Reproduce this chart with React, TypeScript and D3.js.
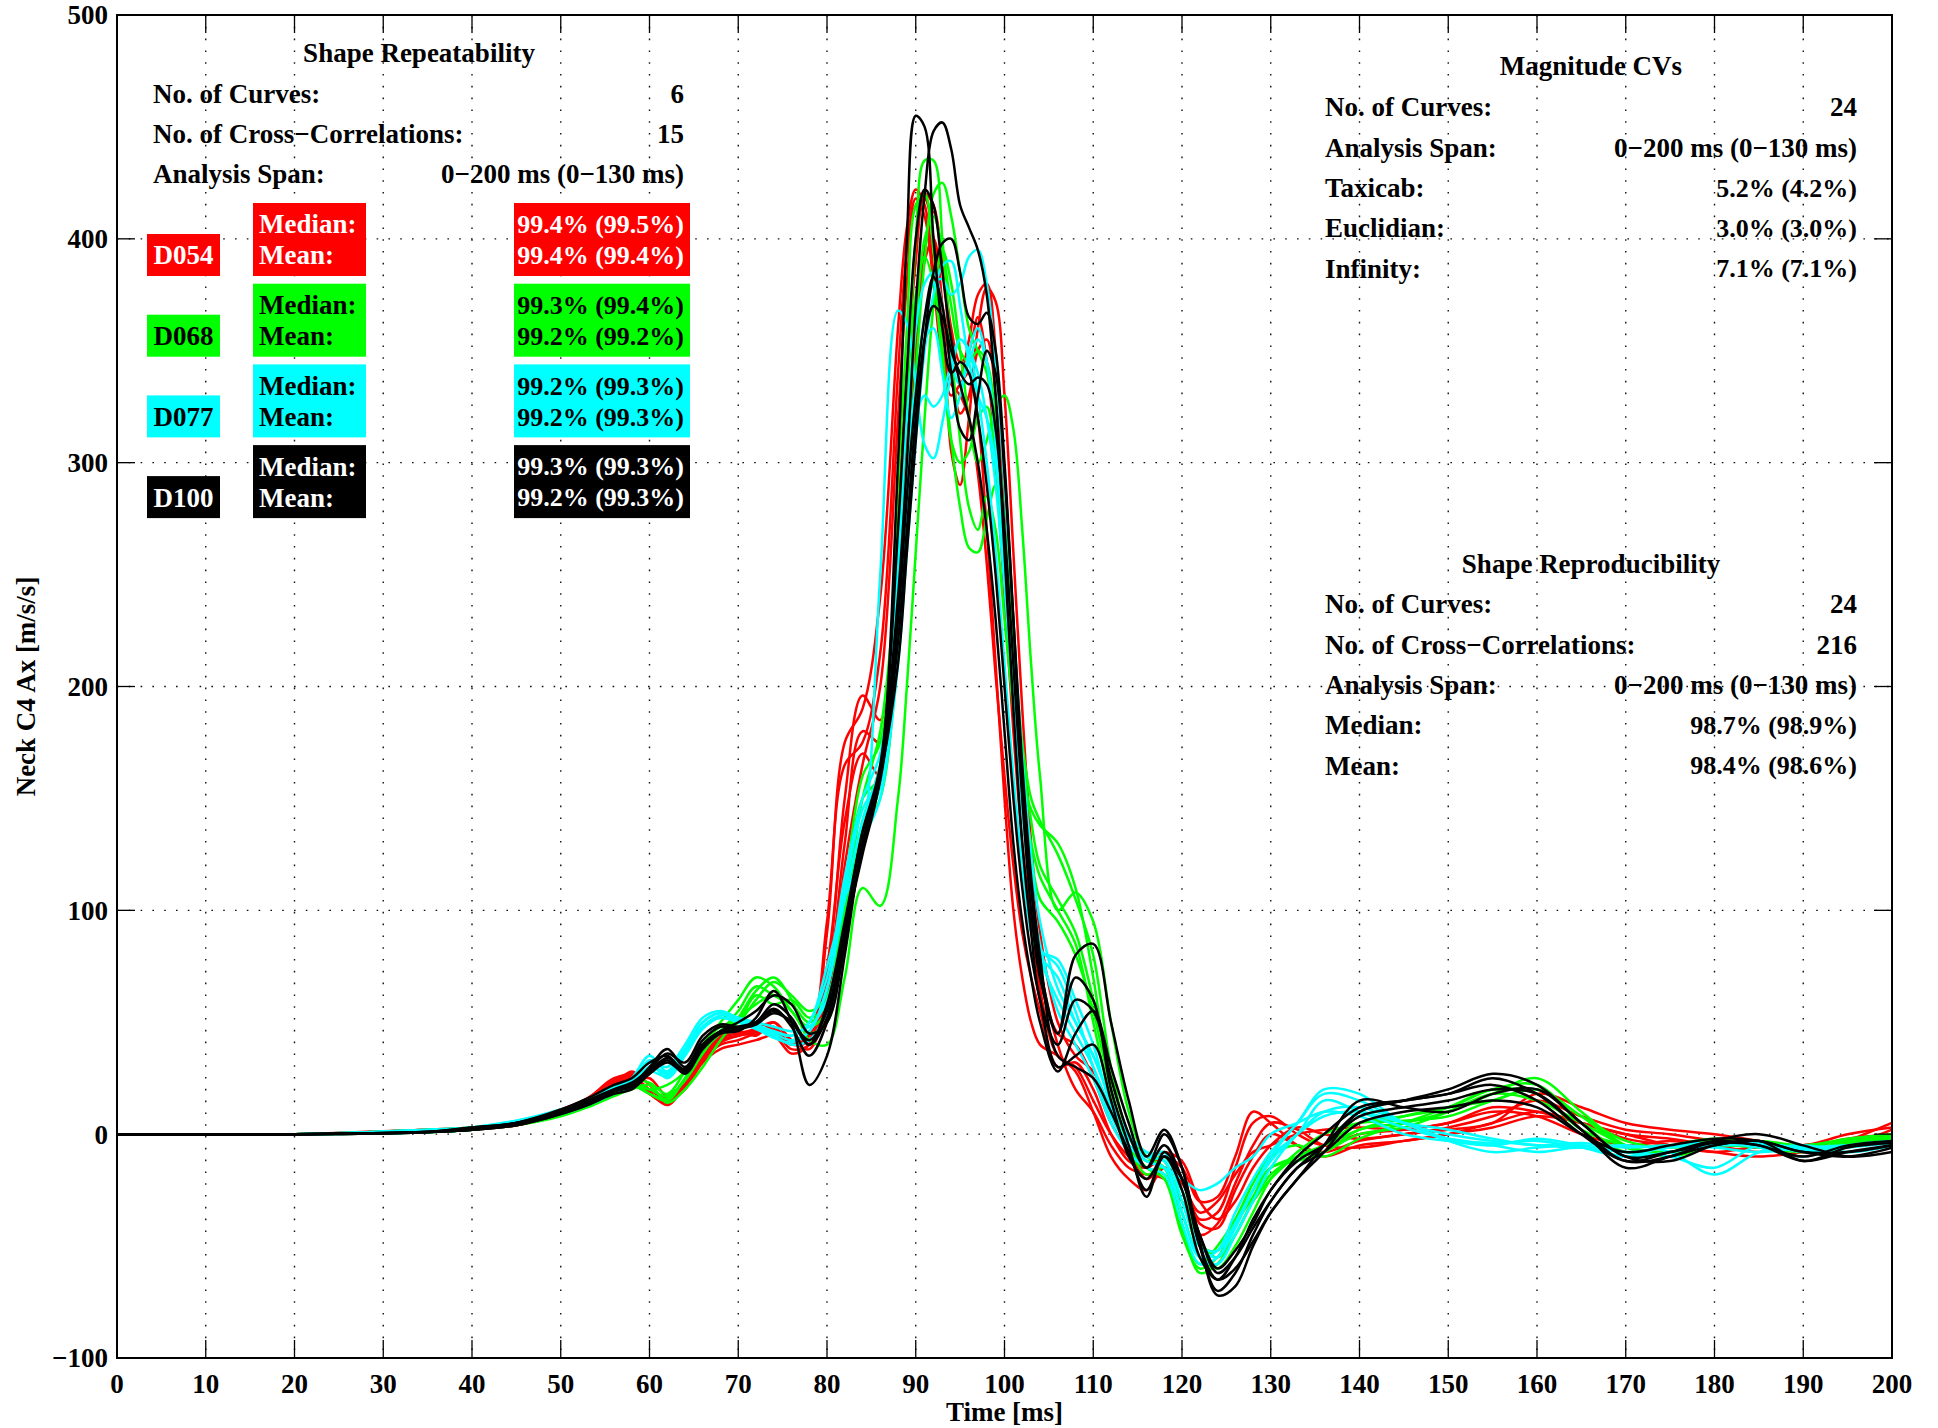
import React from 'react';
import * as d3 from 'd3';

// ---------- data ----------
const T = [0,20,35,40,45,50,53,56,58,60,62,64,66,68,70,72,74,76,78,80,82,84,86,88,89,90,91,92,93,94,95,96,97,98,99,100,101,102,103,104,106,108,110,112,114,116,118,120,122,124,126,128,130,133,136,140,145,150,155,160,165,170,175,180,185,190,195,200];

const D054_1 = [0,0,2,3,5,10,16,24,27,18,14,22,35,42,44,46,48,40,42,90,175,190,240,360,405,422,415,385,350,335,330,320,295,255,205,160,120,90,70,55,30,32,20,0,-12,-15,-10,-20,-38,-35,-15,5,8,0,-5,0,2,5,12,10,5,0,-2,-5,-8,-5,-3,0];
const D054_2 = [0,0,1,3,4,9,14,22,28,22,15,20,33,40,42,45,46,38,40,70,150,196,185,280,340,390,420,415,390,360,345,350,365,345,300,240,180,130,95,70,45,40,25,5,-8,-20,-15,-20,-40,-42,-25,-10,0,-5,-8,-3,0,3,8,15,8,2,0,-3,-5,-8,-5,2];
const D054_3 = [0,0,2,2,5,11,16,25,26,20,16,24,36,44,46,44,50,42,38,60,120,165,200,320,380,415,418,400,370,345,340,355,375,380,350,290,220,160,110,75,40,20,10,-5,-15,-18,-20,-30,-45,-40,-22,-5,5,2,-5,-6,-3,0,5,10,5,0,-5,-8,-10,-8,-5,-2];
const D054_4 = [0,0,1,2,4,9,13,20,24,25,17,21,32,38,40,42,44,36,40,65,130,180,175,250,310,360,395,412,390,345,322,330,360,378,372,330,260,190,130,90,50,35,28,10,-5,-10,-8,-12,-30,-38,-30,-15,-5,3,0,-2,0,2,5,18,12,5,2,0,-3,-5,0,3];
const D054_5 = [0,0,1,3,5,10,14,23,26,19,13,22,34,41,44,45,47,40,44,75,140,170,160,230,290,350,390,400,370,305,290,320,350,355,330,280,210,150,100,65,35,30,15,0,-10,-15,-10,-15,-30,-28,-10,10,5,-5,-10,-5,-3,0,3,8,5,-2,-5,-8,-6,-10,-3,5];
const D054_6 = [0,0,2,3,5,10,15,22,25,18,15,23,35,43,45,47,50,42,45,95,165,175,215,340,395,418,410,380,345,330,335,340,320,270,210,150,100,70,50,40,35,28,10,-10,-20,-25,-15,-22,-35,-30,-18,-8,-5,0,2,3,2,5,10,8,0,-5,-3,-5,-4,-6,-2,0];

const D068_1 = [0,0,1,2,5,9,14,20,22,20,22,28,40,48,50,60,68,62,55,62,100,150,180,260,330,400,435,435,400,350,310,280,270,285,270,230,190,160,145,138,130,110,70,20,-5,-15,-20,-45,-60,-55,-40,-25,-15,-10,-5,5,8,12,20,22,5,-8,-5,-2,-5,-5,-3,-2];
const D068_2 = [0,0,1,2,5,10,14,19,22,18,16,25,38,46,55,66,62,58,50,60,110,160,175,290,360,415,420,395,350,310,280,262,260,275,290,270,220,175,150,140,125,105,80,30,0,-10,-15,-40,-62,-58,-45,-30,-20,-10,-8,2,5,10,18,25,10,-5,-8,-5,-6,-8,-5,-3];
const D068_3 = [0,0,1,2,4,8,12,17,20,22,14,20,30,42,52,64,70,60,42,40,70,110,102,150,200,260,320,370,395,380,350,320,300,310,325,330,315,270,210,160,100,108,95,50,10,-10,-12,-35,-55,-60,-50,-35,-20,-8,0,5,6,8,15,20,8,-6,-8,-5,-5,-6,-5,-2];
const D068_4 = [0,0,2,3,5,10,14,20,24,23,18,28,40,50,60,70,66,55,48,55,95,140,165,240,300,360,400,410,395,370,350,345,350,345,320,270,210,160,125,105,95,80,55,20,-5,-18,-15,-30,-50,-52,-40,-28,-15,-12,-8,0,3,10,18,15,5,-5,-10,-5,-3,-5,-2,0];
const D068_5 = [0,0,1,2,5,9,13,20,22,18,15,25,37,45,50,62,58,60,52,58,105,150,160,270,330,375,392,380,345,310,300,305,320,325,300,250,195,155,130,115,100,85,50,15,-8,-15,-18,-42,-58,-50,-38,-22,-10,-5,-10,-2,5,12,20,18,2,-5,-5,-3,-5,-6,-4,-1];
const D068_6 = [0,0,1,3,5,10,15,21,23,20,17,24,36,46,52,58,62,55,45,50,90,135,150,220,280,340,390,420,425,410,385,360,350,340,315,270,215,170,140,120,105,90,60,25,0,-12,-10,-25,-48,-55,-45,-30,-18,-10,-5,2,8,12,15,20,8,-3,-6,-4,-4,-5,-3,-1];

const D077_1 = [0,0,1,3,6,10,14,20,25,35,28,38,50,54,50,48,46,44,50,75,105,130,250,368,362,335,308,302,318,340,355,350,330,300,260,210,160,120,90,78,60,45,30,10,-5,-12,-15,-20,-25,-22,-15,-10,0,5,10,8,0,-3,-5,-2,-5,-8,-10,-15,-5,-8,-6,-4];
const D077_2 = [0,0,2,3,6,11,15,21,24,33,30,40,52,55,52,50,48,46,48,60,95,135,155,220,280,330,365,380,382,375,380,392,395,380,345,290,230,170,125,95,65,50,35,15,-2,-10,-12,-35,-55,-52,-35,-20,-8,5,20,18,5,0,-3,-5,-6,-5,-8,-18,-8,-5,-8,-5];
const D077_3 = [0,0,1,2,5,9,13,19,22,30,27,36,48,53,52,48,45,42,46,65,110,145,160,260,320,360,380,385,370,345,335,345,355,345,310,260,205,155,115,83,75,55,30,8,-5,-10,-8,-30,-50,-55,-40,-25,-10,0,15,10,3,-2,-4,-3,-6,-10,-5,-4,-6,-10,-5,-3];
const D077_4 = [0,0,1,3,5,10,14,20,23,32,25,35,47,52,50,47,44,40,42,55,90,130,150,210,260,310,350,375,388,390,370,345,330,320,300,260,210,160,110,82,78,60,40,12,-5,-12,-15,-35,-55,-58,-45,-30,-15,0,10,12,5,-3,-8,-6,-5,-8,-6,-5,-5,-7,-8,-5];
const D077_5 = [0,0,2,3,5,10,14,19,22,30,28,38,50,54,51,49,46,44,50,70,115,150,170,250,300,335,355,360,340,320,330,350,360,345,310,255,200,150,110,85,55,40,25,5,-8,-15,-18,-40,-58,-55,-42,-25,-12,0,8,10,5,2,-2,-5,-4,-6,-5,-6,-8,-6,-5,-4];
const D077_6 = [0,0,1,2,5,9,13,18,21,28,26,37,48,52,50,47,43,41,46,65,105,140,165,245,290,320,330,325,330,345,355,350,340,320,290,245,195,145,105,80,70,50,35,15,0,-8,-10,-25,-50,-52,-40,-25,-10,5,18,15,5,-2,-5,-8,-6,-10,-8,-5,-4,-6,-5,-3];

const D100_1 = [0,0,1,2,5,10,15,20,22,30,38,30,42,48,47,50,55,50,42,55,90,125,160,300,400,455,450,400,360,340,345,340,320,290,250,200,150,110,80,60,30,35,40,15,-10,-20,-10,-25,-55,-65,-55,-38,-25,-10,0,12,15,18,22,15,0,-12,-8,-3,-5,-10,-5,-3];
const D100_2 = [0,0,1,2,5,11,16,22,25,32,35,28,40,46,50,55,62,58,45,50,85,130,162,240,300,370,420,448,452,440,415,405,395,375,330,260,190,130,90,60,40,60,55,25,0,-15,0,-15,-50,-70,-62,-45,-30,-15,-5,10,15,20,27,22,5,-10,-12,-5,-3,-8,-8,-5];
const D100_3 = [0,0,1,3,5,10,14,20,23,29,36,32,44,49,48,50,58,52,40,58,95,135,165,270,340,400,422,415,385,355,335,320,300,270,230,180,130,95,70,50,28,45,55,30,5,-15,-5,-20,-45,-60,-52,-40,-25,-12,-5,8,12,15,20,18,2,-15,-10,-5,-3,-12,-6,-4];
const D100_4 = [0,0,1,2,4,9,13,18,20,27,33,27,38,45,46,52,64,50,22,35,80,130,160,210,260,310,355,385,398,400,385,365,362,367,350,300,230,160,110,75,45,80,85,50,15,-10,2,-15,-48,-72,-68,-50,-35,-20,-5,15,12,10,18,20,5,-10,-8,-4,-5,-12,-8,-5];
const D100_5 = [0,0,1,3,5,10,14,19,22,28,34,29,40,46,48,50,56,48,35,50,90,135,160,230,285,330,365,383,370,340,315,310,330,350,340,295,230,165,115,80,35,30,25,10,-8,-25,-10,-20,-45,-62,-55,-42,-30,-15,-8,5,10,12,15,12,0,-8,-5,-2,-3,-8,-10,-6];
const D100_6 = [0,0,1,2,4,9,13,19,21,27,32,28,39,45,47,49,54,50,40,52,88,128,158,220,270,320,355,370,365,350,340,335,338,335,315,270,210,150,100,70,45,70,60,20,-5,-28,-8,-20,-50,-65,-60,-48,-35,-20,-8,10,15,18,25,18,2,-12,-10,-3,0,-5,-10,-8];

const SUBJECTS = ['D054', 'D068', 'D077', 'D100'];
const SUBJECT_COLORS = ['#ff0000', '#00ff00', '#00ffff', '#000000'];
const SUBJECT_TEXT = ['#ffffff', '#000000', '#000000', '#ffffff'];
const SUBJECT_CURVES = [
  [D054_1, D054_2, D054_3, D054_4, D054_5, D054_6],
  [D068_1, D068_2, D068_3, D068_4, D068_5, D068_6],
  [D077_1, D077_2, D077_3, D077_4, D077_5, D077_6],
  [D100_1, D100_2, D100_3, D100_4, D100_5, D100_6],
];
const SUBJECT_MEDIAN = ['99.4% (99.5%)', '99.3% (99.4%)', '99.2% (99.3%)', '99.3% (99.3%)'];
const SUBJECT_MEAN = ['99.4% (99.4%)', '99.2% (99.2%)', '99.2% (99.3%)', '99.2% (99.3%)'];

const REPEAT_ROWS = [
  ['No. of Curves:', '6'],
  ['No. of Cross\u2212Correlations:', '15'],
  ['Analysis Span:', '0\u2212200 ms (0\u2212130 ms)'],
];
const MAG_ROWS = [
  ['No. of Curves:', '24'],
  ['Analysis Span:', '0\u2212200 ms (0\u2212130 ms)'],
  ['Taxicab:', '5.2% (4.2%)'],
  ['Euclidian:', '3.0% (3.0%)'],
  ['Infinity:', '7.1% (7.1%)'],
];
const REPRO_ROWS = [
  ['No. of Curves:', '24'],
  ['No. of Cross\u2212Correlations:', '216'],
  ['Analysis Span:', '0\u2212200 ms (0\u2212130 ms)'],
  ['Median:', '98.7% (98.9%)'],
  ['Mean:', '98.4% (98.6%)'],
];

const X_TICKS = d3.range(0, 201, 10);
const Y_TICKS = [-100, 0, 100, 200, 300, 400, 500];

// ---------- layout ----------
const W = 1938;
const H = 1428;
const L = 117, R = 1892, TOP = 15, BOT = 1358;
const FS = 27;
const TICK = 18;

const x = d3.scaleLinear().domain([0, 200]).range([L, R]);
const y = d3.scaleLinear().domain([-100, 500]).range([BOT, TOP]);

const lineGen = d3.line<number>()
  .x((_d, i) => x(T[i]))
  .y((d) => y(d))
  .curve(d3.curveCatmullRom.alpha(0.5));

const fmt = (v: number) => (v < 0 ? '\u2212' + Math.abs(v) : String(v));
const valSize = (s: string) => (s.indexOf('%') >= 0 ? 26 : FS);

export default function App() {
  const grpTop0 = 203;
  const grpStep = 80.7;
  return (
    <svg
      width={W}
      height={H}
      viewBox={`0 0 ${W} ${H}`}
      style={{ position: 'absolute', left: 0, top: 0, background: '#fff' }}
      fontFamily="'Liberation Serif', 'Times New Roman', serif"
      fontWeight="bold"
      fontSize={FS}
    >
      <defs>
        <clipPath id="plotclip">
          <rect x={L} y={TOP} width={R - L} height={BOT - TOP} />
        </clipPath>
      </defs>
      <rect x={0} y={0} width={W} height={H} fill="#fff" />

      {/* grid */}
      <g stroke="#111" strokeWidth={1.4} strokeDasharray="1.6 10.2">
        {X_TICKS.filter((t) => t > 0 && t < 200).map((t) => (
          <line key={'gx' + t} x1={x(t)} x2={x(t)} y1={TOP} y2={BOT} />
        ))}
        {Y_TICKS.filter((v) => v > -100 && v < 500).map((v) => (
          <line key={'gy' + v} x1={L} x2={R} y1={y(v)} y2={y(v)} />
        ))}
      </g>

      {/* curves */}
      <g clipPath="url(#plotclip)" fill="none" strokeWidth={2.5} strokeLinejoin="round">
        {SUBJECT_CURVES.map((curves, si) =>
          curves.map((c, ci) => (
            <path key={si + '-' + ci} d={lineGen(c) || ''} stroke={SUBJECT_COLORS[si]} />
          ))
        )}
      </g>

      {/* ticks */}
      <g stroke="#000" strokeWidth={1.3}>
        {X_TICKS.map((t) => (
          <g key={'tx' + t}>
            <line x1={x(t)} x2={x(t)} y1={BOT} y2={BOT - TICK} />
            <line x1={x(t)} x2={x(t)} y1={TOP} y2={TOP + TICK} />
          </g>
        ))}
        {Y_TICKS.map((v) => (
          <g key={'ty' + v}>
            <line x1={L} x2={L + TICK} y1={y(v)} y2={y(v)} />
            <line x1={R} x2={R - TICK} y1={y(v)} y2={y(v)} />
          </g>
        ))}
      </g>
      <rect x={L} y={TOP} width={R - L} height={BOT - TOP} fill="none" stroke="#000" strokeWidth={2} />

      {/* tick labels */}
      {X_TICKS.map((t) => (
        <text key={'lx' + t} x={x(t)} y={1384} dy="0.35em" textAnchor="middle">{fmt(t)}</text>
      ))}
      {Y_TICKS.map((v) => (
        <text key={'ly' + v} x={L - 9} y={y(v)} dy="0.35em" textAnchor="end">{fmt(v)}</text>
      ))}

      {/* axis labels */}
      <text x={(L + R) / 2} y={1412} dy="0.35em" textAnchor="middle">Time [ms]</text>
      <text transform={`translate(26,${(TOP + BOT) / 2}) rotate(-90)`} dy="0.35em" textAnchor="middle">Neck C4 Ax [m/s/s]</text>

      {/* Shape Repeatability block */}
      <text x={419} y={53} dy="0.35em" textAnchor="middle">Shape Repeatability</text>
      {REPEAT_ROWS.map((r, i) => (
        <g key={'rr' + i}>
          <text x={153} y={94 + i * 40} dy="0.35em">{r[0]}</text>
          <text x={684} y={94 + i * 40} dy="0.35em" textAnchor="end">{r[1]}</text>
        </g>
      ))}
      {SUBJECTS.map((s, i) => {
        const top = grpTop0 + i * grpStep;
        return (
          <g key={'sg' + s}>
            <rect x={147} y={top + 31} width={73} height={42} fill={SUBJECT_COLORS[i]} />
            <rect x={253} y={top} width={113} height={73} fill={SUBJECT_COLORS[i]} />
            <rect x={514} y={top} width={176} height={73} fill={SUBJECT_COLORS[i]} />
            <text x={183.5} y={top + 52} dy="0.35em" textAnchor="middle" fill={SUBJECT_TEXT[i]}>{s}</text>
            <text x={259} y={top + 21} dy="0.35em" fill={SUBJECT_TEXT[i]}>Median:</text>
            <text x={259} y={top + 52} dy="0.35em" fill={SUBJECT_TEXT[i]}>Mean:</text>
            <text x={684} y={top + 21} dy="0.35em" textAnchor="end" fontSize={26} fill={SUBJECT_TEXT[i]}>{SUBJECT_MEDIAN[i]}</text>
            <text x={684} y={top + 52} dy="0.35em" textAnchor="end" fontSize={26} fill={SUBJECT_TEXT[i]}>{SUBJECT_MEAN[i]}</text>
          </g>
        );
      })}

      {/* Magnitude CVs block */}
      <text x={1591} y={66} dy="0.35em" textAnchor="middle">Magnitude CVs</text>
      {MAG_ROWS.map((r, i) => (
        <g key={'mr' + i}>
          <text x={1325} y={107 + i * 40.3} dy="0.35em">{r[0]}</text>
          <text x={1857} y={107 + i * 40.3} dy="0.35em" textAnchor="end" fontSize={valSize(r[1])}>{r[1]}</text>
        </g>
      ))}

      {/* Shape Reproducibility block */}
      <text x={1591} y={564} dy="0.35em" textAnchor="middle">Shape Reproducibility</text>
      {REPRO_ROWS.map((r, i) => (
        <g key={'pr' + i}>
          <text x={1325} y={604 + i * 40.3} dy="0.35em">{r[0]}</text>
          <text x={1857} y={604 + i * 40.3} dy="0.35em" textAnchor="end" fontSize={valSize(r[1])}>{r[1]}</text>
        </g>
      ))}
    </svg>
  );
}
